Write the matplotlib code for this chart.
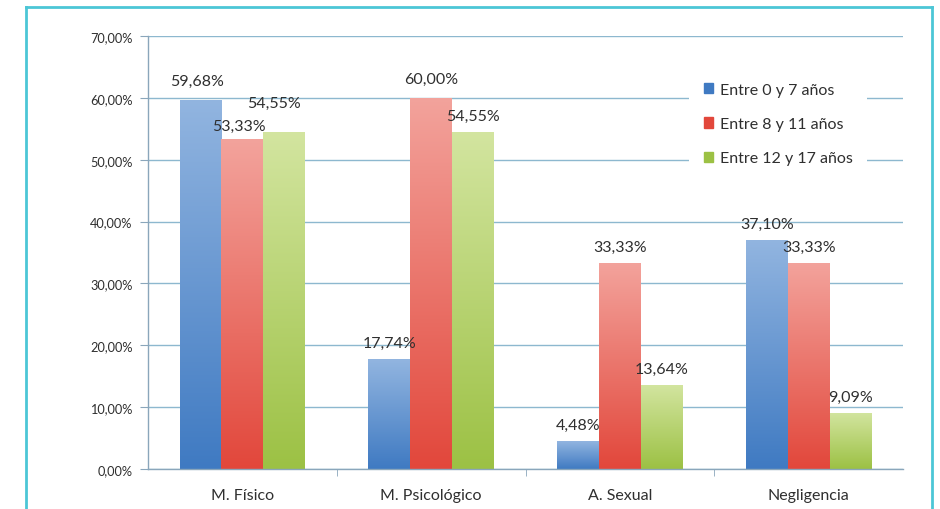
import numpy as np
import matplotlib
matplotlib.use("Agg")
import matplotlib.pyplot as plt
from matplotlib.colors import LinearSegmentedColormap
from matplotlib.lines import Line2D

# ---- data ----
categories = ["M. Físico", "M. Psicológico", "A. Sexual", "Negligencia"]
series_names = ["Entre 0 y 7 años", "Entre 8 y 11 años", "Entre 12 y 17 años"]
vals_0_7 = [59.68, 17.74, 4.48, 37.10]
vals_8_11 = [53.33, 60.00, 33.33, 33.33]
vals_12_17 = [54.55, 54.55, 13.64, 9.09]
y_ticks = [0, 10, 20, 30, 40, 50, 60, 70]

# ---- style ----
plt.rcParams['font.family'] = ['Lato', 'DejaVu Sans']
top_cols = ["#92b5e0", "#f3a39c", "#d3e5a0"]
bot_cols = ["#3f7ac2", "#e2473b", "#9cc144"]
bar_w = 0.222
grid_col = "#8db8cf"
spine_col = "#8aa6bb"
txt_col = "#2f2f2f"
# label offsets in pixels (dx, dy), keyed (category, series)
default_off = (0, 16)
label_off = {(0, 0): (-3, 19), (0, 1): (-3, 13), (0, 2): (-10, 29),
             (1, 1): (0, 19)}

fig = plt.figure(figsize=(9.4, 5.1), dpi=100)
ax = fig.add_axes([148/940, 1-470/510, (903-148)/940, 433/510])

series = [vals_0_7, vals_8_11, vals_12_17]
x = np.arange(len(categories))

grad = np.linspace(0, 1, 256).reshape(-1, 1)
handles = []
for s, vals in enumerate(series):
    cmap = LinearSegmentedColormap.from_list(f"g{s}", [bot_cols[s], top_cols[s]])
    xs = x + (s - 1) * bar_w
    bars = ax.bar(xs, vals, width=bar_w, color=bot_cols[s], edgecolor='none', zorder=2)
    for b in bars:
        x0, y0 = b.get_x(), b.get_y()
        w, h = b.get_width(), b.get_height()
        im = ax.imshow(grad, cmap=cmap, origin='lower', aspect='auto',
                       extent=[x0, x0 + w, y0, y0 + h], zorder=2.5,
                       interpolation='bilinear')
        im.set_clip_path(b)
    for c, (xi, v) in enumerate(zip(xs, vals)):
        dx, dy = label_off.get((c, s), default_off)
        ax.annotate(f"{v:.2f}%".replace(".", ","), (xi, v), xytext=(dx, dy),
                    textcoords='offset pixels', ha='center', va='center',
                    fontsize=11.5, color=txt_col, zorder=5)
    handles.append(plt.Rectangle((0, 0), 1, 1, color=bot_cols[s]))

ax.set_xlim(-0.5, len(categories) - 0.5)
ax.set_ylim(0, 70)

ax.set_yticks(y_ticks)
ax.set_yticklabels([f"{t:.2f}%".replace(".", ",") for t in y_ticks],
                   fontsize=9.2, color=txt_col)
ax.yaxis.grid(True, color=grid_col, linewidth=1, zorder=0)
ax.set_axisbelow(True)
ax.tick_params(axis='y', length=6, color=spine_col, pad=5)

ax.set_xticks(x)
ax.set_xticklabels(categories, fontsize=11.5, color=txt_col)
ax.tick_params(axis='x', length=0, pad=14)
ax.set_xticks(np.arange(0.5, len(categories) - 0.5, 1), minor=True)
ax.tick_params(axis='x', which='minor', length=5, color=spine_col, direction='out')

for sp in ['top', 'right']:
    ax.spines[sp].set_visible(False)
for sp in ['left', 'bottom']:
    ax.spines[sp].set_color(spine_col)
    ax.spines[sp].set_linewidth(1)

leg = ax.legend(handles, series_names, loc='upper left',
                bbox_to_anchor=(0.717, 0.925), frameon=True, fontsize=11.5,
                labelspacing=1.27, handlelength=0.6, handleheight=0.6,
                handletextpad=0.4, borderpad=0.9, borderaxespad=0)
leg.get_frame().set_facecolor('white')
leg.get_frame().set_edgecolor('none')
leg.get_frame().set_alpha(1)
for t in leg.get_texts():
    t.set_color(txt_col)
leg.set_zorder(6)

# outer cyan frame
fc = "#4cc6d6"
fig.add_artist(Line2D([26/940, 26/940], [0, 1-8/510], color=fc, lw=2))
fig.add_artist(Line2D([26/940, 932/940], [1-8/510, 1-8/510], color=fc, lw=2))
fig.add_artist(Line2D([932/940, 932/940], [0, 1-8/510], color=fc, lw=2))

fig.savefig("out.png", dpi=100)
